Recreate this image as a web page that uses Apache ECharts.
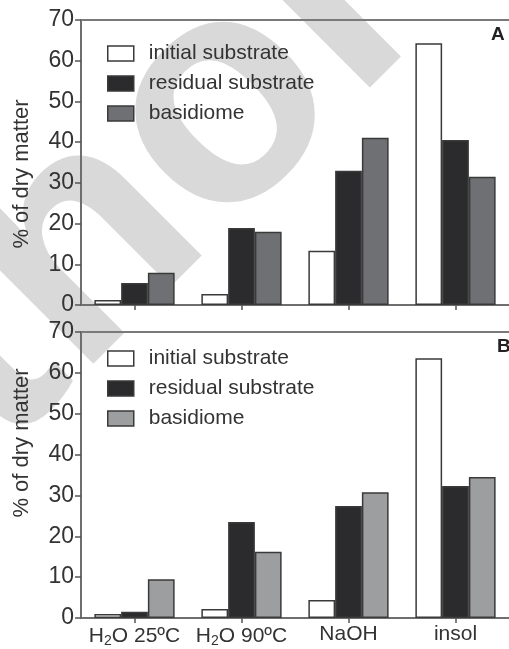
<!DOCTYPE html>
<html><head><meta charset="utf-8">
<script src="https://cdn.jsdelivr.net/npm/echarts@6/dist/echarts.min.js"></script>
<style>html,body{margin:0;padding:0;background:#fff}#c{width:509px;height:649px}</style>
</head><body><div id="c"></div>
<script>
const categories = ['H\u2082O 25\u00baC', 'H\u2082O 90\u00baC', 'NaOH', 'insol'];
const seriesNames = ['initial substrate', 'residual substrate', 'basidiome'];
const initialA = [1.2, 2.7, 13.3, 64.3];
const residualA = [5.4, 18.9, 33.0, 40.5];
const basidiomeA = [7.9, 18.0, 41.1, 31.5];
const initialB = [1.0, 2.2, 4.4, 63.6];
const residualB = [1.5, 23.5, 27.4, 32.3];
const basidiomeB = [9.5, 16.2, 30.8, 34.5];
const yMin = 0, yMax = 70, yStep = 10;
const panelLabels = ['A', 'B'];
const yTitle = '% of dry matter';
const watermark = 'Author';

const FONT = 'Liberation Sans, Arial, sans-serif';
const colorsA = ['#ffffff', '#2b2a2c', '#6f7073'];
const colorsB = ['#ffffff', '#2b2a2c', '#9d9ea0'];
const grids = [
  {left: 81, top: 20, width: 432, height: 285},
  {left: 81, top: 332, width: 432, height: 286}
];

function fmtLabel(v) {
  const parts = v.split('\u2082');
  if (parts.length === 1) return '{n|' + v + '}';
  return '{n|' + parts[0] + '}{s|2}{n|' + parts[1] + '}';
}

const xAxes = [], yAxes = [], series = [], legends = [];
[0, 1].forEach(function (g) {
  xAxes.push({
    type: 'category', gridIndex: g, data: categories,
    axisLine: {show: true, lineStyle: {color: '#6e6e6e', width: 2}},
    axisTick: {show: true, alignWithLabel: true, length: 5, lineStyle: {color: '#555', width: 1.5}},
    axisLabel: g === 1 ? {
      show: true, interval: 0, margin: 6, formatter: fmtLabel,
      rich: {
        n: {fontSize: 21, color: '#333', fontFamily: FONT},
        s: {fontSize: 14, color: '#333', fontFamily: FONT, padding: [10, 0, 0, 0]}
      }
    } : {show: false}
  });
  xAxes.push({
    type: 'category', gridIndex: g, position: 'top', data: categories,
    axisLine: {show: true, lineStyle: {color: '#7a7a7a', width: 2}},
    axisTick: {show: false}, axisLabel: {show: false}
  });
  yAxes.push({
    type: 'value', gridIndex: g, min: yMin, max: yMax, interval: yStep,
    axisLine: {show: true, lineStyle: {color: '#6e6e6e', width: 2}},
    axisTick: {show: true, length: 6, lineStyle: {color: '#555', width: 1.5}},
    splitLine: {show: false},
    axisLabel: {fontSize: 23, color: '#333', margin: 7, fontFamily: FONT}
  });
  const cols = g === 0 ? colorsA : colorsB;
  const vals = g === 0 ? [initialA, residualA, basidiomeA] : [initialB, residualB, basidiomeB];
  seriesNames.forEach(function (nm, i) {
    series.push({
      type: 'bar', name: nm, xAxisIndex: g * 2, yAxisIndex: g, data: vals[i],
      barGap: '0%', barCategoryGap: '25%',
      itemStyle: {color: cols[i], borderColor: '#3a3a3a', borderWidth: 1.5},
      emphasis: {disabled: true}
    });
  });
  legends.push({
    orient: 'vertical', left: 102, top: g === 0 ? 38 : 343,
    itemWidth: 26, itemHeight: 15, itemGap: 9, selectedMode: false,
    icon: 'rect',
    textStyle: {fontSize: 21, color: '#333', fontFamily: FONT, padding: [0, 0, 0, 10]},
    data: seriesNames.map(function (nm, i) {
      return {name: nm, itemStyle: {color: cols[i], borderColor: '#3a3a3a', borderWidth: 1.5}};
    })
  });
});

const chart = echarts.init(document.getElementById('c'), null, {renderer: 'canvas'});
chart.setOption({
  animation: false,
  backgroundColor: '#fff',
  grid: grids,
  xAxis: xAxes, yAxis: yAxes, series: series, legend: legends,
  graphic: [
    {type: 'text', x: -362, y: 694, rotation: 0.785, z: -10, silent: true,
     style: {text: watermark, fontSize: 320, fontWeight: 'bold', fill: '#d9d9d9', fontFamily: FONT, align: 'left', verticalAlign: 'middle'}},
    {type: 'text', x: 22, y: 174, rotation: Math.PI / 2, style: {text: yTitle, fontSize: 22, fill: '#333', fontFamily: FONT, align: 'center', verticalAlign: 'middle'}},
    {type: 'text', x: 22, y: 443, rotation: Math.PI / 2, style: {text: yTitle, fontSize: 22, fill: '#333', fontFamily: FONT, align: 'center', verticalAlign: 'middle'}},
    {type: 'text', x: 491, y: 35, style: {text: panelLabels[0], fontSize: 19, fontWeight: 'bold', fill: '#222', fontFamily: FONT, verticalAlign: 'middle'}},
    {type: 'text', x: 497, y: 347, style: {text: panelLabels[1], fontSize: 19, fontWeight: 'bold', fill: '#222', fontFamily: FONT, verticalAlign: 'middle'}}
  ]
});
</script></body></html>
